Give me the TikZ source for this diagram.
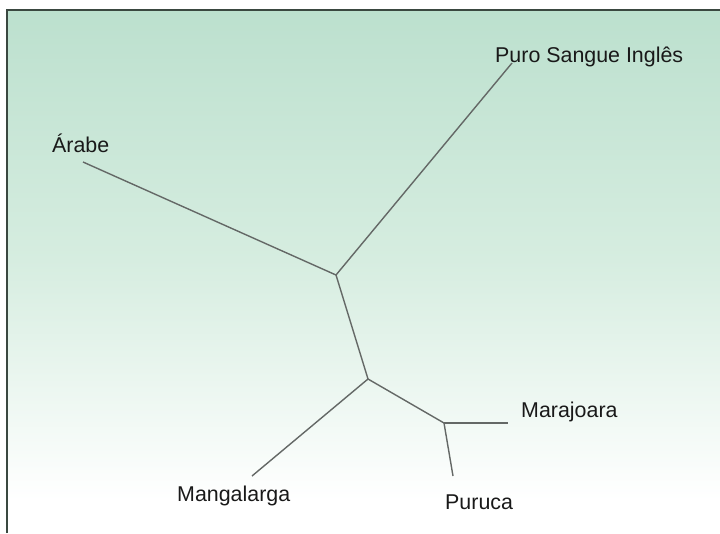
\documentclass[tikz,border=0pt]{standalone}
\usepackage{fontspec}
\setmainfont{Liberation Sans}
\definecolor{bgtop}{RGB}{188,224,206}
\definecolor{bgmid}{RGB}{214,237,224}
\definecolor{framec}{RGB}{58,72,64}
\definecolor{edgec}{RGB}{100,104,102}
\definecolor{textc}{RGB}{25,25,25}
\begin{document}
\begin{tikzpicture}[x=1pt,y=-1pt,
  edge/.style={draw=edgec,line width=1.4pt},
  lbl/.style={text=textc,inner sep=0pt,font=\fontsize{21.4}{25}\selectfont}]
\useasboundingbox (0,0) rectangle (720,533);
\fill[white] (7,10) rectangle (720,533);
\shade[top color=bgtop,bottom color=bgmid] (7,10) rectangle (720,260);
\shade[top color=bgmid,bottom color=white] (7,260) rectangle (720,500);
\draw[framec,line width=1.8pt] (7,533) -- (7,10) -- (720,10);
% tree vertices
\coordinate (A) at (336,275);
\coordinate (B) at (368,379);
\coordinate (C) at (444,423);
\coordinate (lArabe) at (83,162);
\coordinate (lPuro) at (512,63);
\coordinate (lMang) at (252,476);
\coordinate (lMara) at (508,423);
\coordinate (lPuru) at (453,476);
\draw[edge] (lArabe) -- (A);
\draw[edge] (lPuro) -- (A);
\draw[edge] (A) -- (B);
\draw[edge] (B) -- (lMang);
\draw[edge] (B) -- (C);
\draw[edge] (C) -- (lMara);
\draw[edge] (C) -- (lPuru);
% labels
\node[lbl,anchor=base west] (tPuro) at (495,62) {Puro Sangue Inglês};
\node[lbl,anchor=base west] (tArabe) at (52,152) {Árabe};
\node[lbl,anchor=base west] (tMara) at (521,417) {Marajoara};
\node[lbl,anchor=base west] (tMang) at (177,501) {Mangalarga};
\node[lbl,anchor=base west] (tPuru) at (445,509) {Puruca};
\end{tikzpicture}
\end{document}
